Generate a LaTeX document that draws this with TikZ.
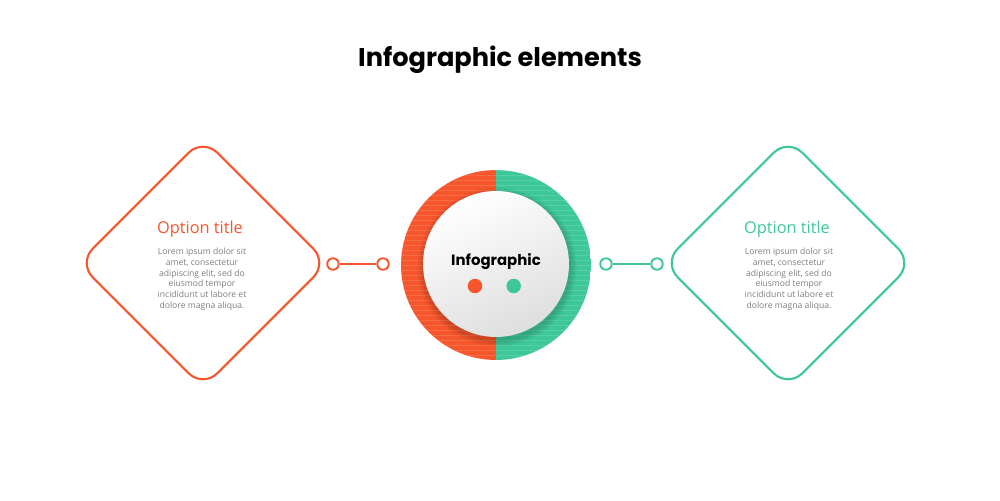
\documentclass[tikz,border=0pt]{standalone}
\usepackage{fontspec}
\setmainfont{Open Sans}
\newfontfamily\headfont{Poppins}
\usepackage{tikz}
\usetikzlibrary{shapes.geometric,positioning}
\definecolor{tomato}{RGB}{246,86,44}
\definecolor{mint}{RGB}{62,199,152}
\definecolor{loremgray}{RGB}{125,125,125}
\tikzset{%
  option/.style={diamond,minimum size=5cm,rounded corners=0.4cm,line width=1.2pt,draw,inner sep=0pt},
  pinhole/.style={circle,minimum size=0.23cm,inner sep=0pt,line width=1.1pt,draw,fill=white},
  link/.style={line width=1.1pt},
  heading/.style={font=\fontsize{9.3}{11}\selectfont,anchor=base,inner sep=0pt},
  lorem/.style={font=\fontsize{4.9}{6.07}\selectfont,align=center,text=loremgray,anchor=north,inner sep=0pt},
  bullet/.style={circle,minimum size=0.29cm,inner sep=0pt}
}

\begin{document}
\begin{tikzpicture}[x=0.02cm,y=-0.02cm]
      \useasboundingbox (0,0) rectangle (1000,500);

      \node [anchor=base,font=\headfont\bfseries\fontsize{14.6}{18}\selectfont] (head) at (500,67) {Infographic elements};

      % left option
      \node [option,draw=tomato] (lopt) at (203,263) {};
      \node [heading,text=tomato] (ltitle) at (200,233) {Option title};
      \node [lorem] (ltext) at (202,248) {Lorem ipsum dolor sit\\amet, consectetur\\adipiscing elit, sed do\\eiusmod tempor\\incididunt ut labore et\\dolore magna aliqua.};

      % right option
      \node [option,draw=mint] (ropt) at (788,263) {};
      \node [heading,text=mint] (rtitle) at (787,233) {Option title};
      \node [lorem] (rtext) at (789,248) {Lorem ipsum dolor sit\\amet, consectetur\\adipiscing elit, sed do\\eiusmod tempor\\incididunt ut labore et\\dolore magna aliqua.};

      % centre
      \node [circle,minimum size=3.8cm,inner sep=0pt,path picture={
          \fill [tomato] (path picture bounding box.south west) rectangle (path picture bounding box.north);
          \fill [mint] (path picture bounding box.south) rectangle (path picture bounding box.north east);
          \foreach \k in {-19,...,19}
            \draw [white,opacity=0.13,line width=0.5pt] ([yshift=\k*0.1cm]path picture bounding box.west) -- ([yshift=\k*0.1cm]path picture bounding box.east);
        }] (ring) at (496,265) {};

      \coordinate (mid) at (496,264);
      \foreach \s in {1,...,6}
        \fill [black,opacity=0.028] ([xshift=0.02cm,yshift=-0.06cm]mid) circle ({1.46cm+\s*0.022cm});
      \node [circle,minimum size=2.92cm,inner sep=0pt,top color=white,bottom color=black!13,shading angle=25] (hub) at (mid) {};

      \node [anchor=base,font=\headfont\bfseries\fontsize{8.5}{11}\selectfont] (hubtxt) at (496,265) {Infographic};
      \node [bullet,fill=tomato] (b1) at (475,286) {};
      \node [bullet,fill=mint,right=0.47cm of b1] (b2) {};

      % connectors
      \node [pinhole,draw=tomato] (l1) at (333,264) {};
      \node [pinhole,draw=tomato] (l2) at (383,264) {} edge [link,draw=tomato] (l1);
      \node [pinhole,draw=mint] (r1) at (606,264) {};
      \node [pinhole,draw=mint] (r2) at (657,264) {} edge [link,draw=mint] (r1);
\end{tikzpicture}
\end{document}
